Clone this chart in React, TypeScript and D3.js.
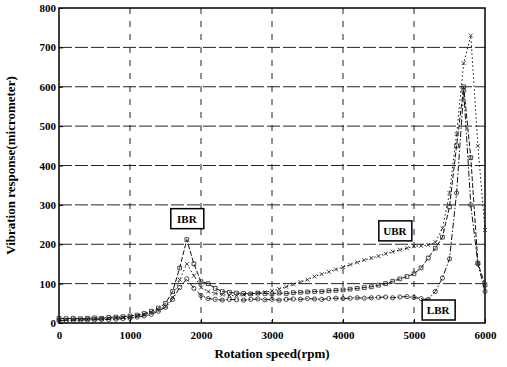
import * as React from "react";
import * as d3 from "d3";

// rotation speed (rpm), one sample every 100 rpm
const speeds = [
  0, 100, 200, 300, 400, 500, 600, 700, 800, 900, 1000,
  1100, 1200, 1300, 1400, 1500, 1600, 1700, 1800, 1900, 2000,
  2100, 2200, 2300, 2400, 2500, 2600, 2700, 2800, 2900, 3000,
  3100, 3200, 3300, 3400, 3500, 3600, 3700, 3800, 3900, 4000,
  4100, 4200, 4300, 4400, 4500, 4600, 4700, 4800, 4900, 5000,
  5100, 5200, 5300, 5400, 5500, 5600, 5700, 5800, 5900, 6000,
];

const ibr = [
  12, 11, 12, 11, 12, 13, 12, 14, 15, 16, 18,
  20, 24, 30, 38, 50, 80, 140, 212, 150, 105,
  100, 88, 80, 78, 76, 75, 74, 76, 75, 74,
  76, 75, 77, 78, 79, 80, 80, 82, 83, 84,
  86, 88, 90, 92, 96, 100, 106, 112, 118, 125,
  140, 165, 190, 218, 295, 450, 600, 420, 152, 97,
];

const ubr = [
  8, 8, 9, 9, 10, 10, 11, 12, 13, 14, 16,
  18, 22, 27, 33, 42, 65, 110, 150, 120, 90,
  80, 75, 72, 70, 70, 72, 74, 76, 78, 82,
  86, 92, 98, 104, 110, 118, 124, 130, 136, 142,
  148, 154, 160, 165, 170, 176, 181, 186, 190, 195,
  196, 198, 205, 240, 330, 480, 660, 730, 450, 236,
];

const lbr = [
  6, 6, 7, 7, 8, 8, 9, 9, 10, 11, 12,
  15, 18, 22, 30, 40, 60, 90, 112, 88, 70,
  62, 60, 58, 60, 59, 58, 60, 61, 59, 60,
  58, 60, 61, 60, 62, 61, 60, 62, 63, 62,
  63, 64, 63, 64, 65, 66, 64, 66, 67, 65,
  62, 60, 80, 114, 163, 330, 590, 300, 150, 80,
];

const xTicks = [0, 1000, 2000, 3000, 4000, 5000, 6000];
const yTicks = [0, 100, 200, 300, 400, 500, 600, 700, 800];

const labels = [
  { text: "IBR", speed: 1800, value: 265 },
  { text: "UBR", speed: 4730, value: 234 },
  { text: "LBR", speed: 5340, value: 33 },
];

const font = "'Liberation Serif', 'DejaVu Serif', serif";

function drawChart(svgRef) {
  const width = 507;
  const height = 367;
  const margin = { top: 8, right: 22, bottom: 44, left: 59 };
  const innerW = width - margin.left - margin.right;
  const innerH = height - margin.top - margin.bottom;

  const x = d3.scaleLinear().domain([0, 6000]).range([0, innerW]);
  const y = d3.scaleLinear().domain([0, 800]).range([innerH, 0]);

  const svgContainer = d3.select(svgRef.current)
    .attr("width", width)
    .attr("height", height);
  svgContainer.selectAll("*").remove();

  svgContainer.append("rect").attr("width", width).attr("height", height).attr("fill", "#fff");

  const svg = svgContainer.append("g")
    .attr("transform", `translate(${margin.left},${margin.top})`);

  // grid
  svg.selectAll(".vgrid")
    .data(xTicks.slice(1, -1))
    .enter()
    .append("line")
    .attr("x1", d => x(d)).attr("x2", d => x(d))
    .attr("y1", 0).attr("y2", innerH)
    .attr("stroke", "#222")
    .attr("stroke-width", 1)
    .attr("stroke-dasharray", "6,7");

  svg.selectAll(".hgrid")
    .data(yTicks.slice(1, -1))
    .enter()
    .append("line")
    .attr("x1", 0).attr("x2", innerW)
    .attr("y1", d => y(d)).attr("y2", d => y(d))
    .attr("stroke", "#222")
    .attr("stroke-width", 1)
    .attr("stroke-dasharray", "13,3");

  // axes
  const xAxis = svg.append("g")
    .attr("transform", `translate(0,${innerH})`)
    .call(d3.axisBottom(x).tickValues(xTicks).tickFormat(d3.format("d")).tickSize(-4).tickPadding(8));
  const yAxis = svg.append("g")
    .call(d3.axisLeft(y).tickValues(yTicks).tickFormat(d3.format("d")).tickSize(-4).tickPadding(3));
  [xAxis, yAxis].forEach(a => {
    a.select(".domain").remove();
    a.selectAll("line").attr("stroke", "#000");
    a.selectAll("text")
      .attr("font-family", font)
      .attr("font-size", 11)
      .attr("font-weight", "bold")
      .attr("fill", "#000");
  });

  svg.append("rect")
    .attr("width", innerW).attr("height", innerH)
    .attr("fill", "none").attr("stroke", "#000").attr("stroke-width", 1.5);

  // series
  const series = [
    { name: "IBR", values: ibr, dash: "5,2", marker: "square" },
    { name: "UBR", values: ubr, dash: "1.5,2.5", marker: "cross" },
    { name: "LBR", values: lbr, dash: "6,2,1.5,2", marker: "circle" },
  ];

  series.forEach(s => {
    const pts = speeds.map((sp, i) => [sp, s.values[i]]);
    const line = d3.line().x(d => x(d[0])).y(d => y(d[1])).curve(d3.curveLinear);
    svg.append("path")
      .attr("d", line(pts))
      .attr("fill", "none")
      .attr("stroke", "#111")
      .attr("stroke-width", 1)
      .attr("stroke-dasharray", s.dash);

    const sym = s.marker === "square" ? d3.symbolSquare : s.marker === "circle" ? d3.symbolCircle : d3.symbolTimes;
    const size = s.marker === "cross" ? 12 : 14;
    svg.selectAll(".m-" + s.name)
      .data(pts)
      .enter()
      .append("path")
      .attr("d", d3.symbol().type(sym).size(size))
      .attr("transform", d => `translate(${x(d[0])},${y(d[1])})`)
      .attr("fill", "none")
      .attr("stroke", "#222")
      .attr("stroke-width", 0.8);
  });

  // boxed labels
  labels.forEach(l => {
    const g = svg.append("g").attr("transform", `translate(${x(l.speed)},${y(l.value)})`);
    g.append("rect")
      .attr("x", -16).attr("y", -10).attr("width", 33).attr("height", 20)
      .attr("fill", "#fff").attr("stroke", "#000").attr("stroke-width", 1.5);
    g.append("text")
      .attr("text-anchor", "middle").attr("dy", "0.35em")
      .attr("font-family", font).attr("font-size", 11).attr("font-weight", "bold")
      .text(l.text);
  });

  // axis titles
  svg.append("text")
    .attr("x", innerW / 2).attr("y", innerH + 35)
    .attr("text-anchor", "middle")
    .attr("font-family", font).attr("font-size", 13).attr("font-weight", "bold")
    .text("Rotation speed(rpm)");
  svg.append("text")
    .attr("transform", `translate(${-44},${innerH / 2}) rotate(-90)`)
    .attr("text-anchor", "middle")
    .attr("font-family", font).attr("font-size", 13).attr("font-weight", "bold")
    .text("Vibration response(micrometer)");
}

export default function App() {
  const svgRef = React.useRef(null);

  React.useEffect(() => {
    drawChart(svgRef);
  }, [svgRef]);

  return (
    <div>
      <style>{"body{margin:0}"}</style>
      <svg ref={svgRef} style={{ display: "block" }} />
    </div>
  );
}
